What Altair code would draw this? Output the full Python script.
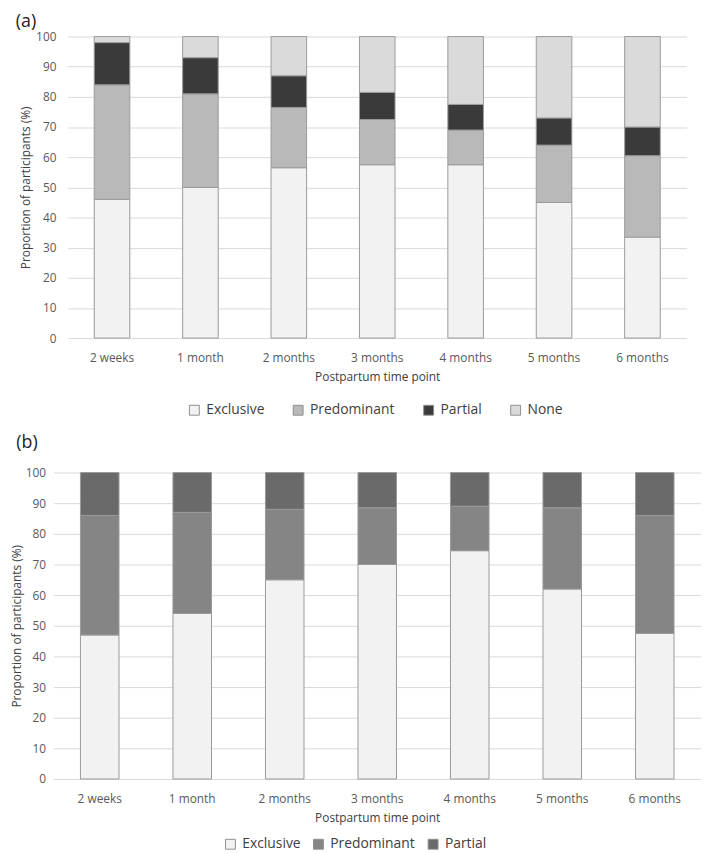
import altair as alt
import pandas as pd

time_points = ["2 weeks", "1 month", "2 months", "3 months", "4 months", "5 months", "6 months"]

cats_a = ["Exclusive", "Predominant", "Partial", "None"]
a_exclusive = [46, 50, 56.5, 57.5, 57.5, 45, 33.5]
a_predominant = [38, 31, 20, 15, 11.5, 19, 27]
a_partial = [14, 12, 10.5, 9, 8.5, 9, 9.5]
a_none = [2, 7, 13, 18.5, 22.5, 27, 30]

cats_b = ["Exclusive", "Predominant", "Partial"]
b_exclusive = [47, 54, 65, 70, 74.5, 62, 47.5]
b_predominant = [39, 33, 23, 18.5, 14.5, 26.5, 38.5]
b_partial = [14, 13, 12, 11.5, 11, 11.5, 14]

colors_a = ["#f2f2f2", "#b9b9b9", "#3a3a3a", "#dadada"]
colors_b = ["#f2f2f2", "#858585", "#6a6a6a"]


def long_df(cats, series):
    rows = []
    for ci, (cat, vals) in enumerate(zip(cats, series)):
        for t, v in zip(time_points, vals):
            rows.append({"time": t, "category": cat, "value": v, "idx": ci})
    return pd.DataFrame(rows)


df_a = long_df(cats_a, [a_exclusive, a_predominant, a_partial, a_none])
df_b = long_df(cats_b, [b_exclusive, b_predominant, b_partial])


def panel(df, cats, colors, label, width, height, bar, ylab_pad, ytitle_pad,
          title_offset, title_dx, leg_x, leg_y, leg_pad):
    return alt.Chart(df).mark_bar(stroke="#9a9a9a", strokeWidth=1, size=bar).encode(
        x=alt.X("time:N", sort=time_points, title="Postpartum time point",
                axis=alt.Axis(labelAngle=0, domain=False, ticks=False, grid=False,
                              labelPadding=15, titlePadding=8)),
        y=alt.Y("value:Q", stack="zero", scale=alt.Scale(domain=[0, 100], nice=False),
                title="Proportion of participants (%)",
                axis=alt.Axis(values=list(range(0, 101, 10)), domain=False, ticks=False,
                              gridColor="#d9d9d9", labelPadding=ylab_pad,
                              titlePadding=ytitle_pad)),
        color=alt.Color("category:N", sort=cats,
                        scale=alt.Scale(domain=cats, range=colors),
                        legend=alt.Legend(orient="none", legendX=leg_x, legendY=leg_y,
                                          title=None, direction="horizontal",
                                          symbolType="square", symbolSize=100,
                                          symbolStrokeColor="#8f8f8f", symbolStrokeWidth=1,
                                          labelFontSize=14, labelColor="#404040",
                                          labelOffset=5, columnPadding=leg_pad)),
        order=alt.Order("idx:Q"),
    ).properties(
        width=width, height=height,
        title=alt.Title(label, anchor="start", frame="bounds", fontSize=18,
                        fontWeight="normal", color="#222222", offset=title_offset,
                        dx=title_dx),
    )


chart_a = panel(df_a, cats_a, colors_a, "(a)", 626, 305, 36, 12, 3, 0, -4, 121, 371, 27)
chart_b = panel(df_b, cats_b, colors_b, "(b)", 655, 310, 39, 8, 2, 15, 6, 172, 369, 11)

chart = alt.ConcatChart(
    concat=[chart_a, chart_b], columns=1, center=True, spacing=17,
).resolve_scale(color="independent").properties(
    padding={"left": 2, "top": 0, "right": 0, "bottom": 0}
).configure(
    font="Open Sans"
).configure_view(stroke=None).configure_axis(
    labelFontSize=12, labelColor="#595959", titleFontSize=12, titleColor="#404040",
    titleFontWeight="normal"
)

chart.save("out.html", embed_options={"renderer": "svg", "actions": False})
